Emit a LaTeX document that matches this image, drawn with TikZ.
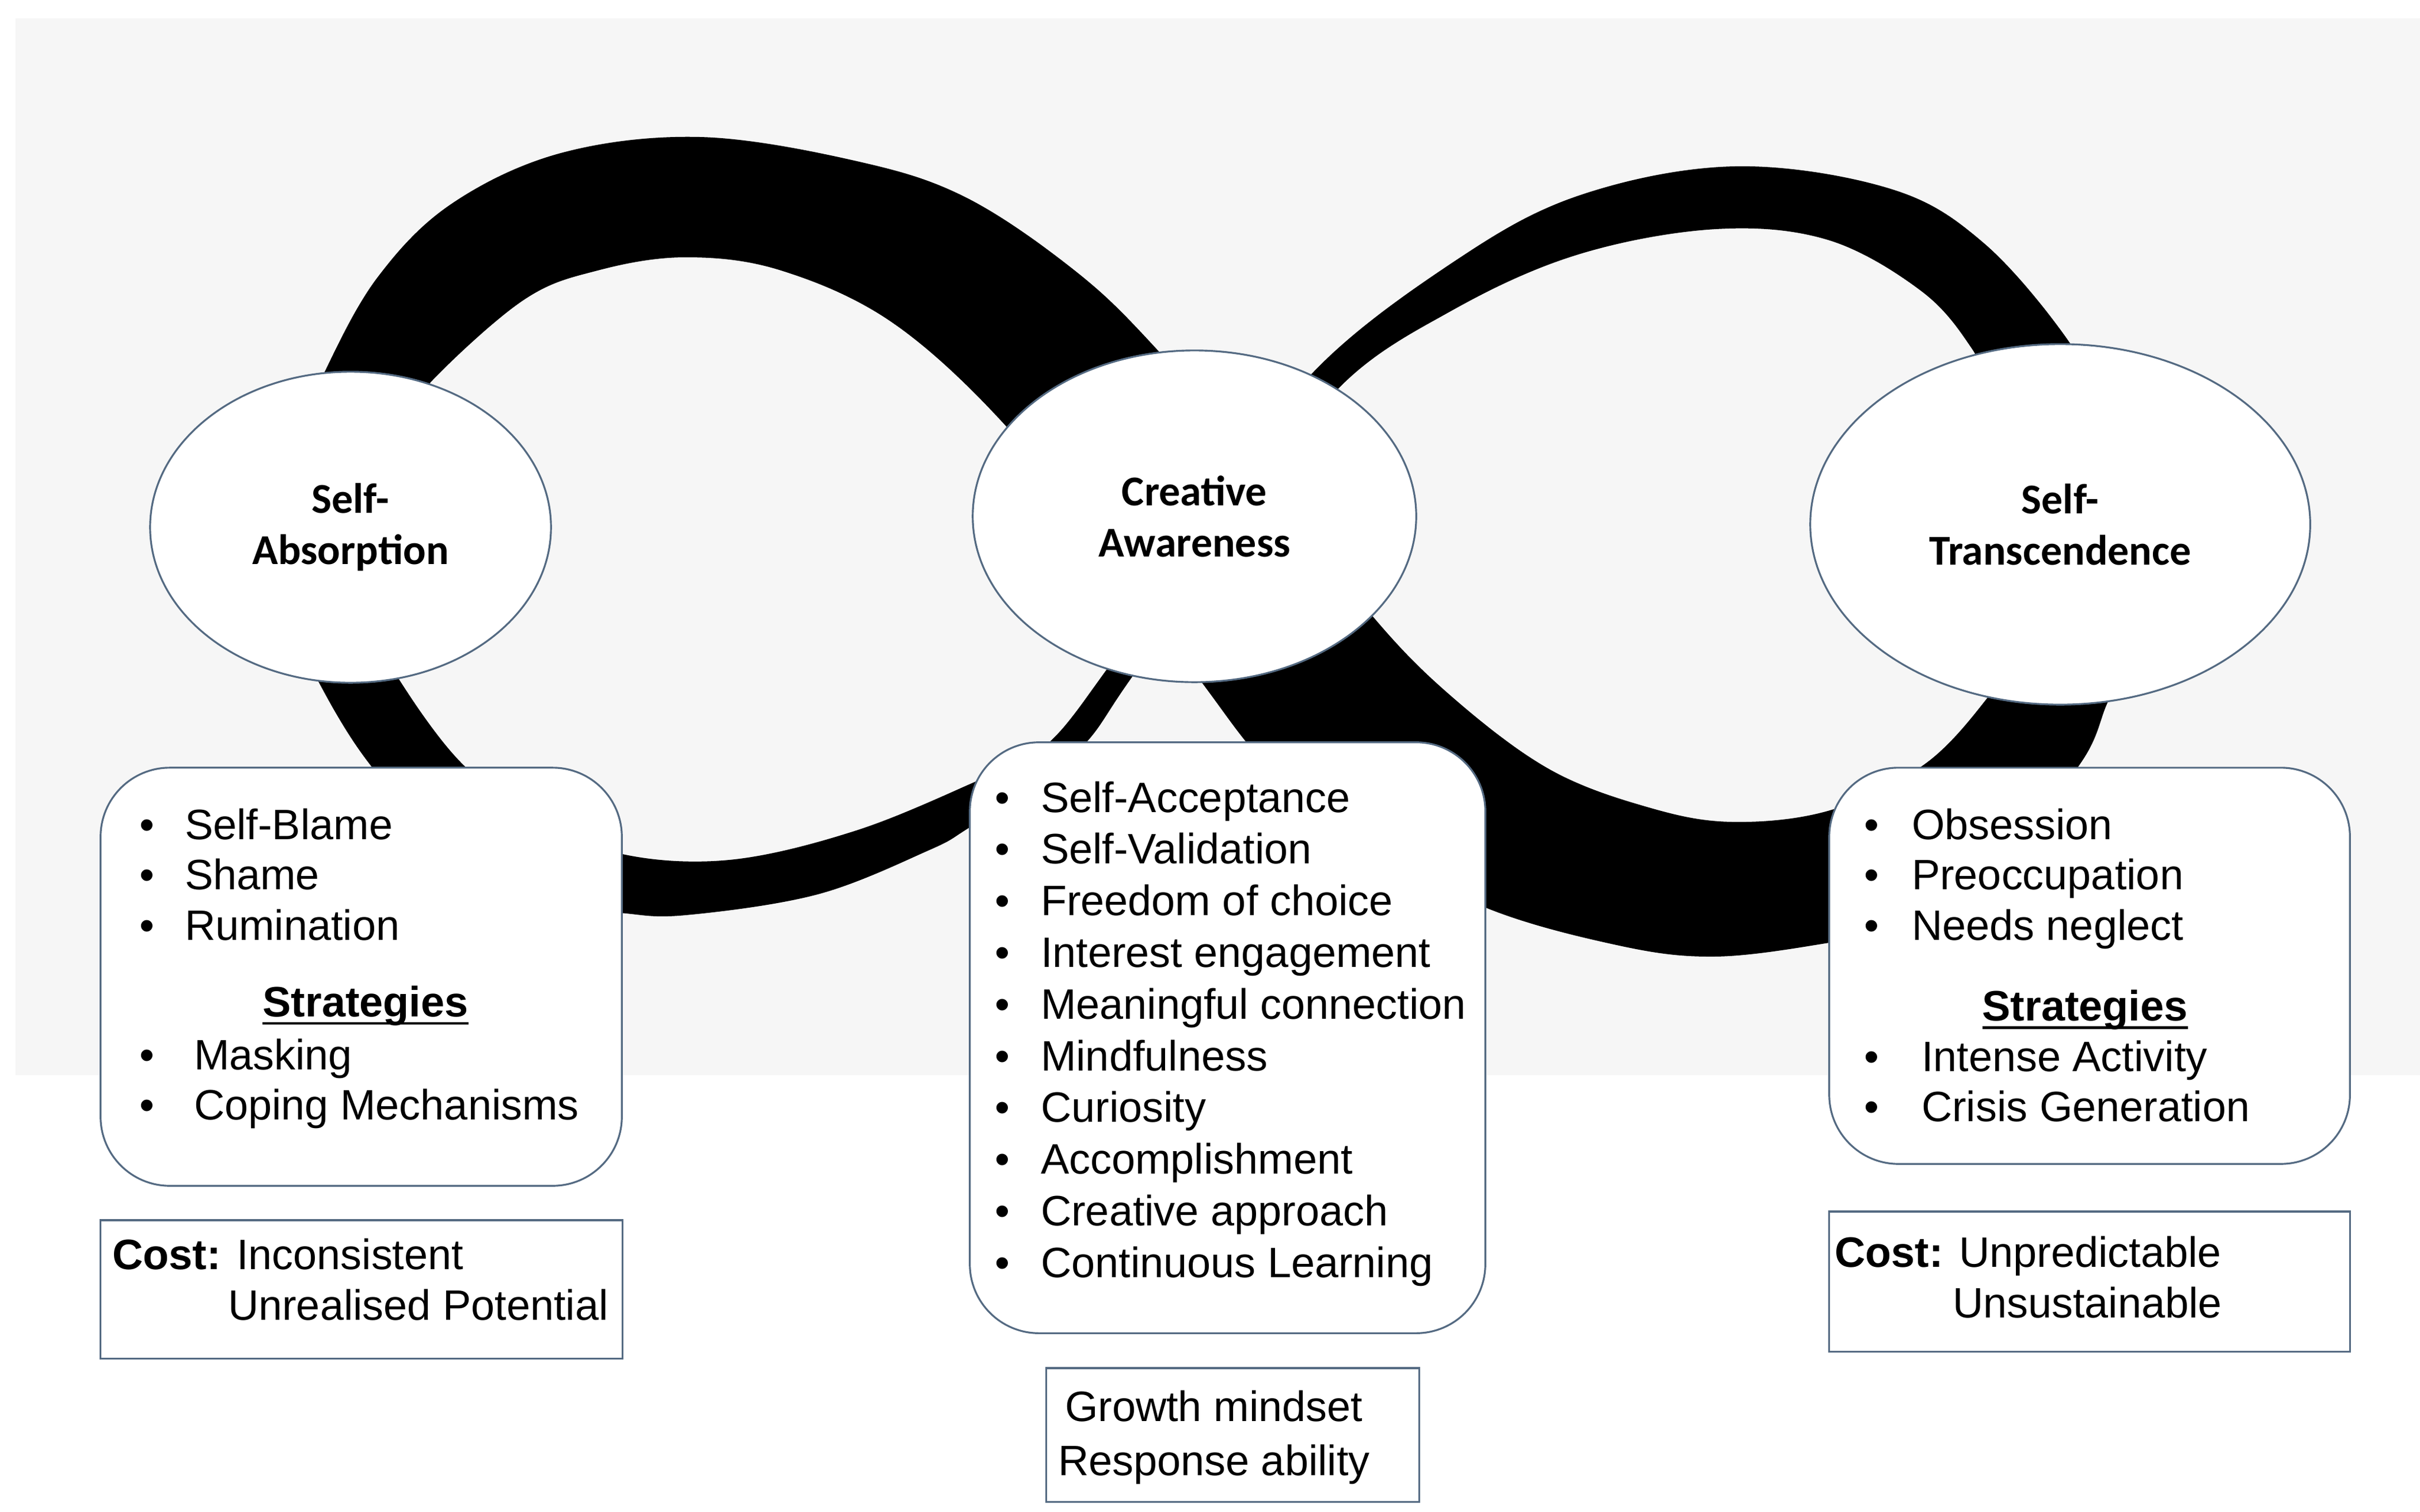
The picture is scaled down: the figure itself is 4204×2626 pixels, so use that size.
\documentclass[tikz,border=0pt]{standalone}
\usepackage{fontspec}
\setmainfont{Liberation Sans}
\newfontfamily\titlefont{Carlito}
\usetikzlibrary{shapes.geometric}

\definecolor{bggrey}{RGB}{246,246,246}
\definecolor{rimblue}{RGB}{84,106,130}

\begin{document}
\begin{tikzpicture}[x=0.01cm, y=-0.01cm,
            every node/.style = {inner sep = 0pt,
                                outer sep = 0pt},
            state/.style      = {ellipse,
                                draw = rimblue,
                                line width = 0.9pt,
                                fill = white,
                                align = center,
                                font = \titlefont\bfseries\fontsize{21}{25.3}\selectfont},
            panel/.style      = {draw = rimblue,
                                line width = 0.9pt,
                                fill = white,
                                rounded corners = 1.2cm},
            costbox/.style    = {draw = rimblue,
                                line width = 0.9pt,
                                fill = white},
            item/.style       = {anchor = base west,
                                font = \fontsize{21}{25}\selectfont},
            dot/.style        = {anchor = base,
                                font = \fontsize{21}{25}\selectfont},
            rule/.style       = {line width = 1.3pt}
            ]
            \useasboundingbox (0,0) rectangle (4204,2626);
            \fill[bggrey] (27,32) rectangle (4204,1868);

            % the two strokes of the loop
            \fill[black] plot[smooth, tension=0.6] coordinates {(530,740) (566,642) (655,483) (783,355) (974,266) (1216,238) (1484,279) (1676,342) (1867,470) (2007,604) (2200,830) (2378,1063) (2517,1206) (2689,1335) (2861,1402) (3010,1428) (3182,1407) (3343,1328) (3452,1213) (3500,1130)}
                -- plot[smooth, tension=0.6] coordinates {(3720,1130) (3665,1213) (3613,1328) (3450,1520) (3300,1610) (3171,1639) (2976,1662) (2804,1641) (2574,1574) (2380,1460) (2240,1360) (2174,1300) (2085,1182) (1920,960) (1739,731) (1548,559) (1357,470) (1191,447) (1038,470) (910,521) (751,661) (700,740)} -- cycle;
            \fill[black] plot[smooth, tension=0.6] coordinates {(3640,700) (3593,592) (3447,423) (3284,328) (3013,289) (2742,340) (2525,455) (2281,647) (2100,900) (1919,1168) (1811,1300) (1690,1360) (1484,1444) (1267,1494) (1077,1483) (940,1420) (806,1330) (693,1180) (660,1100)}
                -- plot[smooth, tension=0.6] coordinates {(520,1100) (552,1182) (644,1330) (800,1500) (950,1570) (1077,1586) (1191,1590) (1420,1554) (1612,1478) (1682,1439) (1800,1360) (1887,1290) (1966,1177) (2150,920) (2325,675) (2525,538) (2742,442) (2981,398) (3176,417) (3338,506) (3425,605) (3470,700)} -- cycle;

            % states
            \node [state, minimum width = 6.96cm, minimum height = 5.40cm] (absorb) at (609,916)  {Self-\\Absorption};
            \node [state, minimum width = 7.70cm, minimum height = 5.76cm] (aware)  at (2075,897) {Creative\\Awareness};
            \node [state, minimum width = 8.68cm, minimum height = 6.26cm] (transc) at (3579,911) {Self-\\Transcendence};

            % panels
            \node [panel, minimum width = 9.05cm, minimum height = 7.26cm]  (absorb box) at (627.5,1697) {};
            \node [panel, minimum width = 8.95cm, minimum height = 10.26cm] (aware box)  at (2132.5,1803) {};
            \node [panel, minimum width = 9.04cm, minimum height = 6.88cm]  (transc box) at (3630,1678) {};

            \node [costbox, minimum width = 9.06cm, minimum height = 2.40cm] (absorb cost) at (628,2240) {};
            \node [costbox, minimum width = 6.47cm, minimum height = 2.32cm] (aware cost)  at (2141.5,2493) {};
            \node [costbox, minimum width = 9.04cm, minimum height = 2.43cm] (transc cost) at (3630,2226.5) {};

            % self-absorption
            \foreach \txt [count=\i] in {Self-Blame, Shame, Rumination}{
                \node [dot]  (sa dot \i)  at (255,1370.5+87.5*\i) {\textbullet};
                \node [item] (sa item \i) at (321,1370.5+87.5*\i) {\txt};
            }
            \node [dot] (sa strat) at (635,1766) {\textbf{Strategies}};
            \draw [rule] ([yshift=-0.12cm]sa strat.base west) -- ([yshift=-0.12cm]sa strat.base east);
            \foreach \txt [count=\i] in {Masking, Coping Mechanisms}{
                \node [dot]  (sa sdot \i)  at (255,1770.5+87.5*\i) {\textbullet};
                \node [item] (sa sitem \i) at (337,1770.5+87.5*\i) {\txt};
            }
            \node [item] (sa cost 1) at (195,2205) {\textbf{Cost:} Inconsistent};
            \node [item] (sa cost 2) at (396,2293) {Unrealised Potential};

            % creative awareness
            \foreach \txt [count=\i from 0] in {Self-Acceptance, Self-Validation, Freedom of choice,
                    Interest engagement, Meaningful connection, Mindfulness, Curiosity,
                    Accomplishment, Creative approach, Continuous Learning}{
                \node [dot]  (ca dot \i)  at (1741,1411+89.8*\i) {\textbullet};
                \node [item] (ca item \i) at (1808,1411+89.8*\i) {\txt};
            }
            \node [item] (ca cost 1) at (1850,2469) {Growth mindset};
            \node [item] (ca cost 2) at (1838,2563) {Response ability};

            % self-transcendence
            \foreach \txt [count=\i] in {Obsession, Preoccupation, Needs neglect}{
                \node [dot]  (st dot \i)  at (3251,1370.5+87.5*\i) {\textbullet};
                \node [item] (st item \i) at (3321,1370.5+87.5*\i) {\txt};
            }
            \node [dot] (st strat) at (3622,1773.5) {\textbf{Strategies}};
            \draw [rule] ([yshift=-0.12cm]st strat.base west) -- ([yshift=-0.12cm]st strat.base east);
            \foreach \txt [count=\i] in {Intense Activity, Crisis Generation}{
                \node [dot]  (st sdot \i)  at (3251,1773.5+87.5*\i) {\textbullet};
                \node [item] (st sitem \i) at (3338,1773.5+87.5*\i) {\txt};
            }
            \node [item] (st cost 1) at (3187,2201) {\textbf{Cost:} Unpredictable};
            \node [item] (st cost 2) at (3392,2289) {Unsustainable};
\end{tikzpicture}
\end{document}
